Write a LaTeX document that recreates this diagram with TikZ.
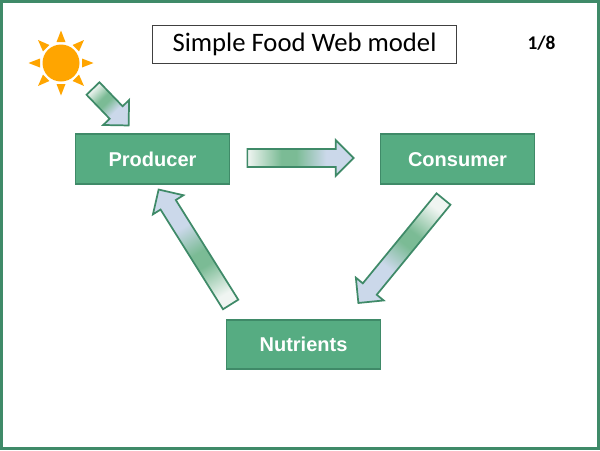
\documentclass[tikz,border=0pt]{standalone}
\usepackage{fontspec}
\setmainfont{Carlito}
\newfontfamily\boxfont{Liberation Sans}
\usetikzlibrary{positioning,calc}

\definecolor{framegreen}{HTML}{3F8A68}
\definecolor{boxgreen}{HTML}{56AC82}
\definecolor{arrowgreen}{HTML}{7BBB95}
\definecolor{arrowblue}{HTML}{CBD8EA}
\definecolor{arrowpale}{HTML}{F0F5F2}
\definecolor{sunorange}{HTML}{FFA500}

\pgfdeclarehorizontalshading{foodfill}{100bp}{color(0bp)=(arrowpale); color(25bp)=(arrowpale); color(41bp)=(arrowgreen); color(48bp)=(arrowgreen); color(62bp)=(arrowblue); color(100bp)=(arrowblue)}

\tikzset{
	trophic/.style={draw=framegreen, line width=1.3pt, fill=boxgreen, text=white,
		minimum width=115.5pt, minimum height=37pt, inner sep=0pt, text height=11pt, text depth=0pt,
		font=\boxfont\bfseries\fontsize{15}{18}\selectfont},
	foodarrow/.style={draw=framegreen, line width=1.3pt, shade, shading=foodfill, shading angle=#1,
		to path={let \p1=($(\tikztotarget)!13.5pt!(\tikztostart)$) in
			-- ($(\tikztostart)!6.75pt!90:(\tikztotarget)$)
			-- ($(\p1)!6.75pt!90:(\tikztotarget)$)
			-- ($(\p1)!13.5pt!90:(\tikztotarget)$)
			-- (\tikztotarget)
			-- ($(\p1)!13.5pt!-90:(\tikztotarget)$)
			-- ($(\p1)!6.75pt!-90:(\tikztotarget)$)
			-- ($(\tikztostart)!6.75pt!-90:(\tikztotarget)$)
			-- cycle}},
	sunray/.style={fill=sunorange, draw=none}
}

\begin{document}
\begin{tikzpicture}[x=0.75pt,y=-0.75pt]
	\useasboundingbox (0,0) rectangle (600,450);
	\draw[framegreen, line width=2.6pt] (1.7,1.7) rectangle (598.3,448.3);

	\node[draw=black!75, line width=0.75pt, minimum width=228pt, minimum height=28.5pt, inner sep=0pt,
		font=\fontsize{20}{24}\selectfont] (title) at (304.5,44) {Simple Food Web model};
	\node[font=\bfseries\fontsize{14.5}{16}\selectfont, inner sep=0pt] (page) at (541.5,43) {1/8};

	\node[trophic] (producer) at (152.5,159) {Producer};
	\node[trophic] (consumer) at (457.5,159) {Consumer};
	\node[trophic] (nutrients) at (303.5,344.5) {Nutrients};

	% sun
	\node[circle, fill=sunorange, minimum size=27.75pt, inner sep=0pt] (sun) at (61,63) {};
	\foreach \a in {0,45,...,315}
		\fill[sunray] ($(sun)+(\a:21)+(\a+90:4.5)$) -- ($(sun)+(\a:32.5)$) -- ($(sun)+(\a:21)+(\a-90:4.5)$) -- cycle;

	% free ends of the arrows
	\coordinate (sunout) at ($(sun)+(32,25.5)$);
	\coordinate (prodin) at ($(producer.north west)+(54,-8)$);
	\coordinate (prodout) at ($(producer.east)+(17,-1)$);
	\coordinate (consin) at ($(consumer.west)+(-26,-1)$);
	\coordinate (consout) at ($(consumer.south)+(-14,14.5)$);
	\coordinate (nutrin) at ($(nutrients.north east)+(-23,-16)$);
	\coordinate (nutrout) at ($(nutrients.north west)+(5,-14.5)$);
	\coordinate (prodback) at ($(producer.south west)+(84,5)$);

	\draw[foodarrow=-46] (sunout) to (prodin);
	\draw[foodarrow=0] (prodout) to (consin);
	\draw[foodarrow=-128] (consout) to (nutrin);
	\draw[foodarrow=121] (nutrout) to (prodback);
\end{tikzpicture}
\end{document}
